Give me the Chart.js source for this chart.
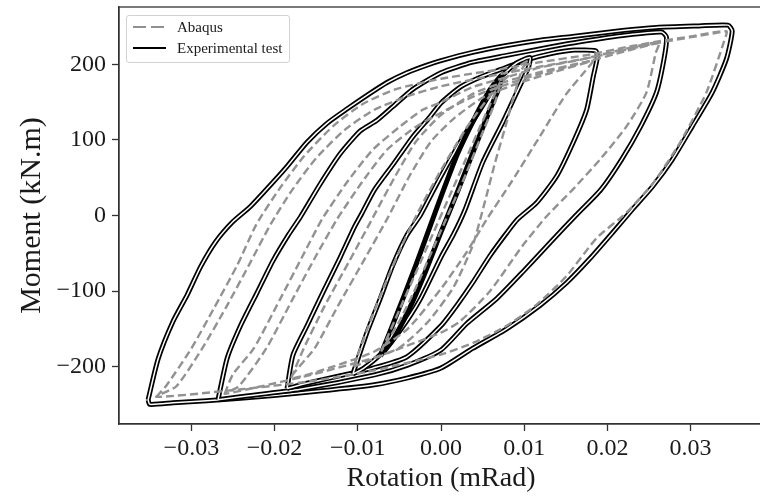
<!DOCTYPE html>
<html>
<head>
<meta charset="utf-8">
<title>Moment - rotation hysteresis</title>
<script src="https://cdn.jsdelivr.net/npm/chart.js@4.4.1/dist/chart.umd.min.js"></script>
<style>
    html, body { margin: 0; padding: 0; width: 760px; height: 496px; overflow: hidden; background: #fff; }
    #wrap { position: relative; width: 790px; height: 496px; }
    #legend {
        position: absolute; left: 126px; top: 15px; width: 162px; height: 46px;
        border: 1px solid #d2d2d2; border-radius: 3px; background: rgba(255, 255, 255, 0.85);
        font-family: 'Liberation Serif', 'Times New Roman', serif; font-size: 15px; color: #1a1a1a;
    }
    #legend .item { position: absolute; left: 6px; height: 20px; display: flex; align-items: center; }
    #legend .swatch { display: inline-block; width: 33px; height: 2.6px; margin-right: 11px; }
    #legend .dash { background: repeating-linear-gradient(to right, #909090 0 13px, transparent 13px 18px); }
    #legend .solid { background: #000; }
</style>
</head>
<body>
<div id="wrap">
    <canvas id="hysteresisChart" width="790" height="496"></canvas>
    <div id="legend">
        <div class="item" style="top: 1px;"><span class="swatch dash"></span><span>Abaqus</span></div>
        <div class="item" style="top: 22px;"><span class="swatch solid"></span><span>Experimental test</span></div>
    </div>
</div>
<script>
// Experimental loops, one per rotation amplitude: [rotation, moment]
const expLoop1 = [[-0.0073,-186],[-0.0060,-150],[-0.0045,-108],[-0.0030,-65],[-0.0015,-20],[0.0000,25],[0.0020,82],[0.0040,128],[0.0058,165],[0.0073,186],
    [0.0070,170],[0.0058,138],[0.0040,88],[0.0020,32],[0.0000,-22],[-0.0020,-78],[-0.0040,-128],[-0.0058,-165],[-0.0073,-186]];
const expLoop2 = [[-0.0106,-210],[-0.0089,-155],[-0.0073,-110],[-0.0058,-66],[-0.0041,-26],[-0.0025,0],[-0.0013,25],[0.0000,52],[0.0023,97],[0.0047,140],[0.0071,182],[0.0091,202],[0.0107,209],
    [0.0105,196],[0.0092,165],[0.0075,125],[0.0050,70],[0.0029,8],[0.0015,-25],[0.0000,-55],[-0.0025,-111],[-0.0049,-152],[-0.0073,-184],[-0.0094,-203],[-0.0106,-210]];
const expLoop3 = [[-0.0185,-229],[-0.0178,-185],[-0.0161,-146],[-0.0142,-102],[-0.0121,-55],[-0.0104,-15],[-0.0095,3],[-0.0080,34],[-0.0058,67],[-0.0034,104],[-0.0013,131],[0.0000,149],[0.0023,170],[0.0047,183],[0.0071,193],[0.0103,206],[0.0131,214],[0.0160,219],[0.0186,218],
    [0.0188,210],[0.0183,184],[0.0175,140],[0.0159,97],[0.0139,52],[0.0115,17],[0.0092,-5],[0.0079,-23],[0.0059,-53],[0.0038,-89],[0.0019,-119],[0.0000,-146],[-0.0041,-187],[-0.0082,-202],[-0.0121,-212],[-0.0161,-222],[-0.0185,-229]];
const expLoop4 = [[-0.0268,-244],[-0.0257,-189],[-0.0241,-146],[-0.0221,-102],[-0.0202,-60],[-0.0183,-25],[-0.0169,-2],[-0.0145,42],[-0.0121,82],[-0.0097,112],[-0.0077,126],[-0.0058,144],[-0.0034,167],[0.0000,189],[0.0038,203],[0.0079,212],[0.0131,223],[0.0167,230],[0.0223,239],[0.0265,243],
    [0.0271,236],[0.0268,207],[0.0259,163],[0.0240,118],[0.0217,74],[0.0192,34],[0.0162,0],[0.0131,-36],[0.0098,-75],[0.0067,-110],[0.0031,-143],[0.0000,-178],[-0.0040,-198],[-0.0080,-211],[-0.0169,-230],[-0.0241,-240],[-0.0268,-244]];
const expLoop5 = [[-0.0352,-244],[-0.0340,-190],[-0.0322,-140],[-0.0305,-105],[-0.0289,-68],[-0.0271,-35],[-0.0250,-8],[-0.0229,12],[-0.0202,44],[-0.0185,65],[-0.0161,97],[-0.0137,122],[-0.0113,141],[-0.0089,159],[-0.0065,176],[-0.0041,189],[-0.0017,199],[0.0000,205],[0.0038,216],[0.0079,225],[0.0119,232],[0.0158,237],[0.0218,245],[0.0259,249],[0.0310,251],[0.0345,252],
    [0.0350,244],[0.0343,207],[0.0326,163],[0.0302,118],[0.0278,74],[0.0254,38],[0.0230,8],[0.0206,-23],[0.0179,-57],[0.0151,-89],[0.0119,-119],[0.0079,-150],[0.0038,-176],[0.0000,-202],[-0.0040,-215],[-0.0080,-224],[-0.0161,-234],[-0.0241,-242],[-0.0322,-248],[-0.0350,-250],[-0.0352,-244]];

// Abaqus loops (two cycles where the model shows a second branch)
const abqLoop1 = [[-0.0072,-180],[-0.0050,-125],[-0.0030,-75],[-0.0010,-25],[0.0010,25],[0.0030,75],[0.0050,125],[0.0072,178],
    [0.0065,150],[0.0050,110],[0.0030,55],[0.0010,5],[-0.0010,-45],[-0.0030,-95],[-0.0050,-140],[-0.0072,-180]];
const abqLoop2 = [[-0.0105,-200],[-0.0085,-140],[-0.0065,-85],[-0.0045,-35],[-0.0025,10],[0.0000,60],[0.0030,115],[0.0060,160],[0.0090,195],[0.0105,205],
    [0.0098,195],[0.0088,160],[0.0078,120],[0.0065,70],[0.0052,15],[0.0038,-40],[0.0015,-95],[-0.0015,-140],[-0.0050,-175],[-0.0105,-200]];
const abqLoop3 = [[-0.0180,-215],[-0.0165,-176],[-0.0140,-120],[-0.0110,-60],[-0.0082,-3],[-0.0055,52],[-0.0030,98],[0.0000,133],[0.0040,162],[0.0080,178],[0.0120,190],[0.0160,200],[0.0183,205],
    [0.0180,200],[0.0150,160],[0.0119,105],[0.0085,45],[0.0055,-5],[0.0030,-50],[0.0000,-97],[-0.0040,-150],[-0.0080,-180],[-0.0130,-200],[-0.0180,-215],
    [-0.0152,-176],[-0.0124,-120],[-0.0093,-60],[-0.0064,-3],[-0.0038,52],[-0.0012,98],[0.0015,128],[0.0050,156],[0.0090,174],[0.0130,188],[0.0183,205]];
const abqLoop4 = [[-0.0260,-236],[-0.0250,-210],[-0.0225,-176],[-0.0193,-110],[-0.0166,-53],[-0.0143,-5],[-0.0113,44],[-0.0082,87],[-0.0049,118],[-0.0022,140],[0.0000,150],[0.0038,170],[0.0079,183],[0.0119,196],[0.0167,206],[0.0219,220],[0.0262,229],
    [0.0258,215],[0.0247,163],[0.0223,118],[0.0191,74],[0.0158,34],[0.0127,-1],[0.0098,-40],[0.0059,-100],[0.0023,-140],[0.0000,-155],[-0.0080,-188],[-0.0160,-212],[-0.0220,-227],[-0.0260,-236],
    [-0.0243,-226],[-0.0210,-176],[-0.0178,-110],[-0.0150,-53],[-0.0125,-5],[-0.0095,44],[-0.0065,87],[-0.0032,116],[0.0000,136],[0.0040,158],[0.0080,174],[0.0120,188],[0.0170,202],[0.0220,217],[0.0262,229]];
const abqLoop5 = [[-0.0342,-240],[-0.0330,-225],[-0.0300,-176],[-0.0273,-123],[-0.0245,-66],[-0.0222,-12],[-0.0195,34],[-0.0165,78],[-0.0130,118],[-0.0095,147],[-0.0055,167],[0.0000,181],[0.0079,195],[0.0119,203],[0.0179,213],[0.0223,223],[0.0259,230],[0.0300,237],[0.0343,244],
    [0.0340,230],[0.0319,163],[0.0287,96],[0.0255,43],[0.0223,4],[0.0187,-30],[0.0151,-80],[0.0115,-118],[0.0079,-146],[0.0040,-168],[0.0000,-184],[-0.0080,-205],[-0.0160,-220],[-0.0240,-230],[-0.0342,-240],
    [-0.0318,-226],[-0.0287,-176],[-0.0259,-123],[-0.0231,-66],[-0.0205,-12],[-0.0180,32],[-0.0150,76],[-0.0115,114],[-0.0080,140],[-0.0040,158],[0.0000,171],[0.0079,189],[0.0179,209],[0.0259,228],[0.0343,244]];

// Axis ticks
const xTicks = [-0.03, -0.02, -0.01, 0, 0.01, 0.02, 0.03];
const xTickLabels = ['\u22120.03', '\u22120.02', '\u22120.01', '0.00', '0.01', '0.02', '0.03'];
const yTicks = [-200, -100, 0, 100, 200];
const yTickLabels = ['\u2212200', '\u2212100', '0', '100', '200'];

const expLoops = [expLoop5, expLoop4, expLoop3, expLoop2, expLoop1];
const abqLoops = [abqLoop5, abqLoop4, abqLoop3, abqLoop2, abqLoop1];

const serif = 'Liberation Serif';
const axisColor = '#333333';

function toPoints(loop) {
    return loop.map(p => ({ x: p[0], y: p[1] }));
}

// Build datasets: black experimental strokes with a thin white core (double-line look),
// then the dashed Abaqus curves on top
const datasets = [];
let order = 100;
expLoops.forEach((loop, i) => {
    datasets.push({
        label: 'Experimental test',
        data: toPoints(loop),
        borderColor: '#000000',
        borderWidth: 5.0,
        tension: 0.2,
        order: order--
    });
    if (i < 4) {
        datasets.push({
            label: 'core',
            data: toPoints(loop),
            borderColor: '#ffffff',
            borderWidth: 1.5,
            tension: 0.2,
            order: order--
        });
    }
});
abqLoops.forEach(loop => {
    datasets.push({
        label: 'Abaqus',
        data: toPoints(loop),
        borderColor: '#929292',
        borderWidth: 2.4,
        borderDash: [8, 4],
        tension: 0.2,
        order: order--
    });
});

// Plot frame (top and right spines)
const framePlugin = {
    id: 'frame',
    afterDatasetsDraw(chart) {
        const { ctx, chartArea: a } = chart;
        ctx.save();
        ctx.strokeStyle = axisColor;
        ctx.lineWidth = 1.3;
        ctx.strokeRect(a.left, a.top, a.right - a.left, a.bottom - a.top);
        ctx.restore();
    }
};

const ctx = document.getElementById('hysteresisChart');
new Chart(ctx, {
    type: 'scatter',
    data: { datasets: datasets },
    options: {
        responsive: false,
        animation: false,
        showLine: true,
        layout: { padding: { top: 7, right: 27, left: 0, bottom: 0 } },
        elements: { point: { radius: 0, hoverRadius: 0 } },
        plugins: {
            legend: { display: false },
            tooltip: { enabled: false }
        },
        scales: {
            x: {
                type: 'linear',
                min: -0.0387,
                max: 0.0387,
                afterBuildTicks: scale => { scale.ticks = xTicks.map(v => ({ value: v })); },
                afterFit: scale => {
                    scale.height = 72;
                    scale.paddingLeft = 0;
                    scale.paddingRight = 0;
                },
                grid: { drawOnChartArea: false, drawTicks: true, tickLength: 7, tickColor: axisColor, tickWidth: 1.3 },
                border: { display: true, color: axisColor, width: 1.3 },
                ticks: {
                    color: '#1a1a1a',
                    font: { family: serif, size: 24 },
                    padding: 3,
                    maxRotation: 0,
                    autoSkip: false,
                    callback: value => {
                        const i = xTicks.indexOf(value);
                        return i >= 0 ? xTickLabels[i] : '';
                    }
                },
                title: {
                    display: true,
                    text: 'Rotation (mRad)',
                    color: '#1a1a1a',
                    font: { family: serif, size: 28 },
                    padding: { top: 0, bottom: 1 }
                }
            },
            y: {
                type: 'linear',
                min: -276,
                max: 276,
                afterBuildTicks: scale => { scale.ticks = yTicks.map(v => ({ value: v })); },
                afterFit: scale => {
                    scale.width = 119;
                    scale.paddingTop = 0;
                    scale.paddingBottom = 0;
                },
                grid: { drawOnChartArea: false, drawTicks: true, tickLength: 7, tickColor: axisColor, tickWidth: 1.3 },
                border: { display: true, color: axisColor, width: 1.3 },
                ticks: {
                    color: '#1a1a1a',
                    font: { family: serif, size: 24 },
                    padding: 6,
                    autoSkip: false,
                    callback: value => {
                        const i = yTicks.indexOf(value);
                        return i >= 0 ? yTickLabels[i] : '';
                    }
                },
                title: {
                    display: true,
                    text: 'Moment (kN.m)',
                    color: '#1a1a1a',
                    font: { family: serif, size: 30 },
                    padding: { top: 14, bottom: 0 }
                }
            }
        }
    },
    plugins: [framePlugin]
});
</script>
</body>
</html>
